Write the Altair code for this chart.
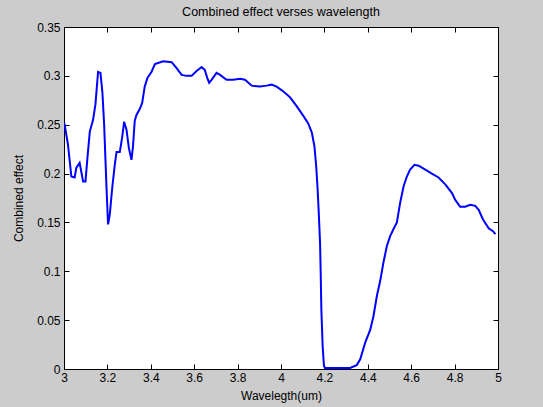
import altair as alt
import pandas as pd

wavelength = [
    3.000, 3.003, 3.018, 3.034, 3.049, 3.057, 3.072, 3.088, 3.099, 3.108,
    3.119, 3.134, 3.145, 3.157, 3.168, 3.177, 3.185, 3.196, 3.203, 3.211,
    3.222, 3.234, 3.242, 3.257, 3.268, 3.277, 3.288, 3.299, 3.311, 3.318,
    3.326, 3.334, 3.349, 3.360, 3.372, 3.385, 3.403, 3.419, 3.457, 3.496,
    3.519, 3.542, 3.565, 3.588, 3.611, 3.634, 3.649, 3.660, 3.669, 3.680,
    3.703, 3.719, 3.749, 3.780, 3.811, 3.834, 3.865, 3.903, 3.934, 3.957,
    3.980, 4.011, 4.042, 4.072, 4.103, 4.126, 4.142, 4.154, 4.162, 4.168,
    4.174, 4.180, 4.183, 4.186, 4.192, 4.198, 4.203, 4.318, 4.349, 4.365,
    4.388, 4.411, 4.426, 4.442, 4.457, 4.472, 4.488, 4.503, 4.518, 4.534,
    4.549, 4.565, 4.580, 4.595, 4.615, 4.634, 4.665, 4.695, 4.726, 4.757,
    4.788, 4.803, 4.826, 4.849, 4.872, 4.895, 4.911, 4.931, 4.957, 4.977,
    4.988,
]
effect = [
    0.252, 0.250, 0.230, 0.197, 0.196, 0.206, 0.211, 0.192, 0.192, 0.216,
    0.243, 0.255, 0.271, 0.304, 0.303, 0.283, 0.250, 0.185, 0.148, 0.158,
    0.185, 0.209, 0.222, 0.222, 0.237, 0.253, 0.245, 0.226, 0.214, 0.228,
    0.254, 0.260, 0.266, 0.272, 0.289, 0.298, 0.304, 0.312, 0.315, 0.314,
    0.308, 0.301, 0.300, 0.300, 0.305, 0.309, 0.306, 0.298, 0.293, 0.296,
    0.303, 0.301, 0.296, 0.296, 0.297, 0.296, 0.290, 0.289, 0.290, 0.291,
    0.289, 0.284, 0.278, 0.269, 0.259, 0.251, 0.242, 0.228, 0.208, 0.187,
    0.160, 0.129, 0.098, 0.061, 0.023, 0.003, 0.001, 0.001, 0.004, 0.010,
    0.027, 0.040, 0.054, 0.075, 0.090, 0.109, 0.126, 0.136, 0.143, 0.150,
    0.170, 0.187, 0.197, 0.204, 0.209, 0.208, 0.204, 0.200, 0.196, 0.189,
    0.180, 0.173, 0.166, 0.166, 0.168, 0.167, 0.163, 0.153, 0.144, 0.141,
    0.138,
]
x_ticks = [3, 3.2, 3.4, 3.6, 3.8, 4, 4.2, 4.4, 4.6, 4.8, 5]
y_ticks = [0, 0.05, 0.1, 0.15, 0.2, 0.25, 0.3, 0.35]

df = pd.DataFrame({"w": wavelength, "e": effect})

FONT = "Liberation Sans"
xscale = alt.Scale(domain=[3, 5], nice=False, zero=False)
yscale = alt.Scale(domain=[0, 0.35], nice=False)

common_axis = dict(domain=False, grid=False, tickColor="black", tickSize=5,
                   tickWidth=1, offset=-5, labelFont=FONT, labelFontSize=12,
                   labelColor="black", titleFont=FONT, titleFontSize=12,
                   titleFontWeight="normal", titleColor="black", format="~g",
                   labelFlush=False, labelOverlap=False)

main = alt.Chart(df).mark_line(color="#0000ff", strokeWidth=2, clip=True).encode(
    x=alt.X("w:Q", scale=xscale,
            axis=alt.Axis(values=x_ticks, title="Wavelegth(um)", labelPadding=3,
                          titlePadding=7, orient="bottom", **common_axis)),
    y=alt.Y("e:Q", scale=yscale,
            axis=alt.Axis(values=y_ticks, title="Combined effect", labelPadding=4,
                          titlePadding=11, orient="left", **common_axis)),
)

mirror = alt.Chart(df).mark_line(strokeOpacity=0).encode(
    x=alt.X("w:Q", scale=xscale,
            axis=alt.Axis(values=x_ticks, title=None, labels=False, orient="top",
                          domain=False, grid=False, tickColor="black", tickSize=5,
                          offset=-5)),
    y=alt.Y("e:Q", scale=yscale,
            axis=alt.Axis(values=y_ticks, title=None, labels=False, orient="right",
                          domain=False, grid=False, tickColor="black", tickSize=5,
                          offset=-5)),
)

chart = alt.layer(main, mirror).resolve_axis(x="independent", y="independent").properties(
    width=434,
    height=342,
    title=alt.Title("Combined effect verses wavelength", font=FONT, fontSize=12.5,
                    fontWeight="normal", color="black", anchor="middle", offset=3),
    autosize="none",
    padding={"left": 64, "top": 27, "right": 45, "bottom": 38},
    background="#cccccc",
).configure_view(stroke="black", strokeWidth=1, fill="white")

chart.save("out.html", embed_options={"renderer": "svg", "actions": False})
